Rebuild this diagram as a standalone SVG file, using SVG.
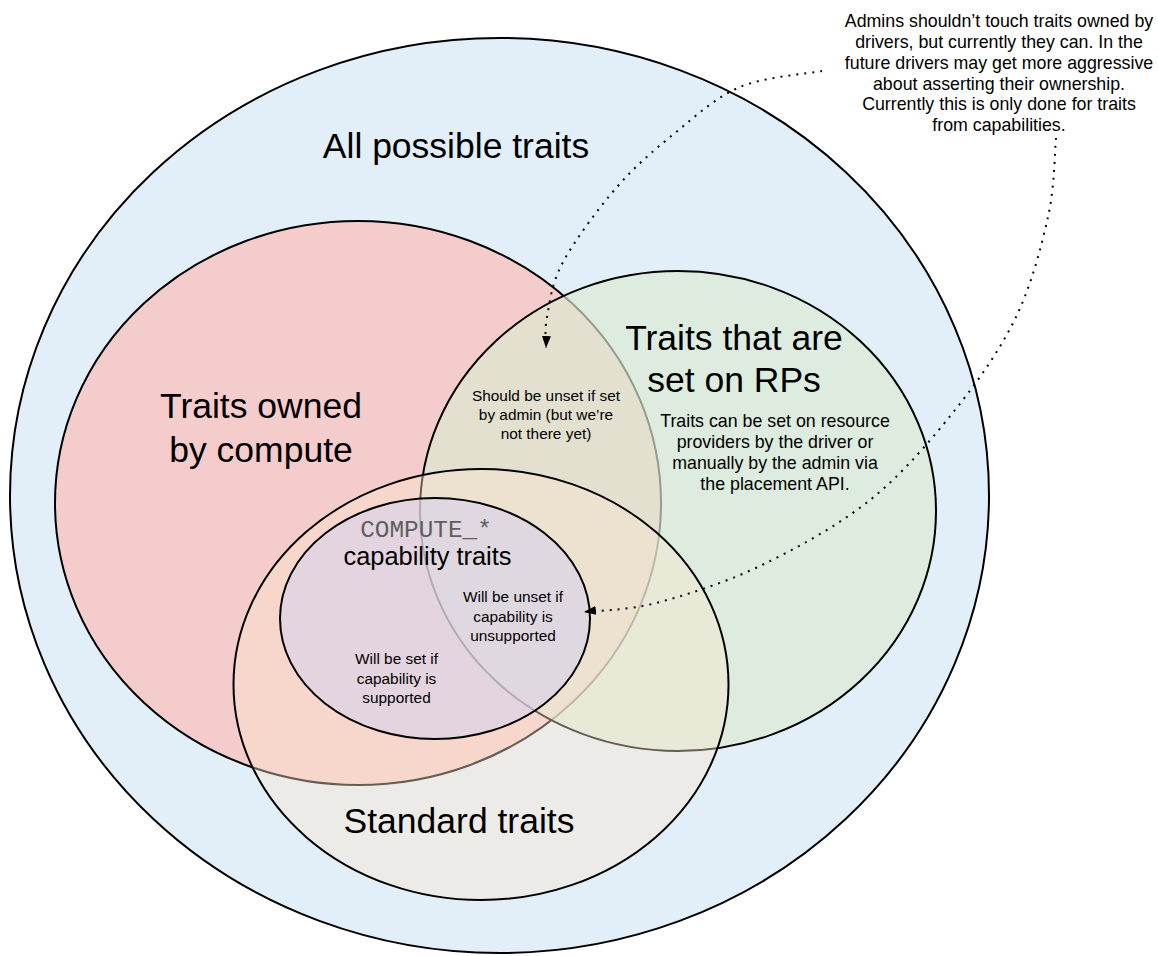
<svg xmlns="http://www.w3.org/2000/svg" width="1158" height="956" viewBox="0 0 1158 956">
<defs>
<style>
.set{stroke:#000;stroke-width:2}
.t{font-family:"Liberation Sans",Arial,sans-serif;fill:#000;text-anchor:middle}
.big{font-size:35.5px}
.med{font-size:25.4px}
.note{font-size:17.8px}
.small{font-size:15.4px}
.mono{font-family:"Liberation Mono","Courier New",monospace;font-size:24.4px;fill:#5e5e5e;text-anchor:middle}
.dot{fill:none;stroke:#000;stroke-width:2;stroke-dasharray:2 6;marker-end:url(#arrow)}
</style>
<marker id="arrow" viewBox="0 0 12 9" refX="12" refY="4.5" markerWidth="12" markerHeight="9" markerUnits="userSpaceOnUse" orient="auto">
<path d="M0,0 L12,4.5 L0,9 z" fill="#000"/>
</marker>
</defs>
<rect width="1158" height="956" fill="#fff"/>

<g id="all-traits">
<ellipse cx="499.5" cy="495.5" rx="489.5" ry="457.5" fill="#e2eef8" class="set"/>
<text class="t big" x="456" y="158">All possible traits</text>
</g>

<g id="owned-by-compute">
<ellipse cx="358" cy="503" rx="303" ry="282" fill="#f4cccc" class="set"/>
<text class="t big"><tspan x="261" y="418">Traits owned</tspan><tspan x="261" y="461.5">by compute</tspan></text>
</g>

<g id="set-on-rps">
<ellipse cx="678" cy="511" rx="258" ry="240" fill="#d9ead3" fill-opacity="0.67" class="set"/>
<text class="t big"><tspan x="734" y="350">Traits that are</tspan><tspan x="734" y="391.5">set on RPs</tspan></text>
<text class="t note"><tspan x="775" y="427">Traits can be set on resource</tspan><tspan x="775" y="448">providers by the driver or</tspan><tspan x="775" y="469">manually by the admin via</tspan><tspan x="775" y="490">the placement API.</tspan></text>
</g>

<g id="owned-and-set">
<text class="t small"><tspan x="546" y="400.5">Should be unset if set</tspan><tspan x="546" y="420">by admin (but we’re</tspan><tspan x="546" y="439">not there yet)</tspan></text>
</g>

<g id="standard-traits">
<ellipse cx="481" cy="684.5" rx="247.5" ry="215.5" fill="#fce5cd" fill-opacity="0.4" class="set"/>
<text class="t big" x="459" y="833">Standard traits</text>
</g>

<g id="compute-capability-traits">
<ellipse cx="435" cy="618.5" rx="155" ry="120.5" fill="#d9d2e9" fill-opacity="0.67" class="set"/>
<text class="mono" x="426" y="537">COMPUTE_*</text>
<text class="t med" x="427.5" y="565">capability traits</text>
<text class="t small"><tspan x="513" y="602">Will be unset if</tspan><tspan x="513" y="621.5">capability is</tspan><tspan x="513" y="640.5">unsupported</tspan></text>
<text class="t small"><tspan x="396.5" y="664">Will be set if</tspan><tspan x="396.5" y="683.5">capability is</tspan><tspan x="396.5" y="702.5">supported</tspan></text>
</g>

<g id="note-driver-ownership">
<text class="t note"><tspan x="999" y="27">Admins shouldn’t touch traits owned by</tspan><tspan x="999" y="48">drivers, but currently they can. In the</tspan><tspan x="999" y="68.5">future drivers may get more aggressive</tspan><tspan x="999" y="89.5">about asserting their ownership.</tspan><tspan x="999" y="110">Currently this is only done for traits</tspan><tspan x="999" y="131">from capabilities.</tspan></text>
</g>

<g id="connectors">
<path class="dot" d="M822,71 C808.3,73.7 764.5,76.7 740,87 C715.5,97.3 695.5,116.3 675,133 C654.5,149.7 635.7,165.5 617,187 C598.3,208.5 574.7,240.3 563,262 C551.3,283.7 549.8,302.7 547,317 C544.2,331.3 546.2,342.8 546,348"/>
<path class="dot" d="M1056,138 C1054.7,151.2 1054.7,187.2 1048,217 C1041.3,246.8 1031.5,284.8 1016,317 C1000.5,349.2 979.3,379.5 955,410 C930.7,440.5 902.5,474 870,500 C837.5,526 795.7,548.8 760,566 C724.3,583.2 685.3,595.3 656,603 C626.7,610.7 596,610.5 584,612"/>
</g>
</svg>
